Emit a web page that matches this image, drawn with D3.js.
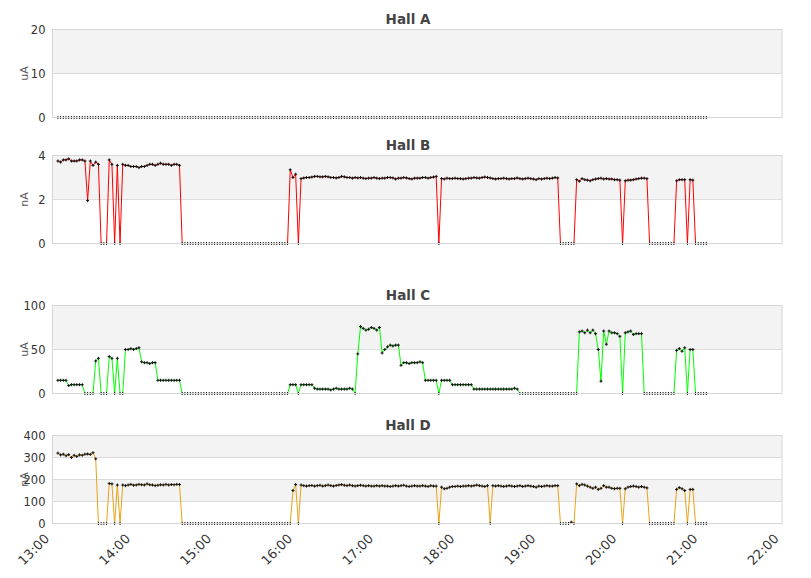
<!DOCTYPE html>
<html>
<head>
<meta charset="utf-8">
<script src="https://cdn.jsdelivr.net/npm/d3@7/dist/d3.min.js"></script>
<style>
  html, body { margin: 0; padding: 0; background: #fff; }
  svg { display: block; }
</style>
</head>
<body>
<svg id="chart" width="811" height="578"></svg>
<script>
// ---------- DATA ----------
const sampleStart = "13:04";   // first sample time
const sampleStepMinutes = 2;    // sampling interval
const xDomain = ["13:00", "22:00"];

const panelTitles = ["Hall A", "Hall B", "Hall C", "Hall D"];
const panelUnits = ["uA", "nA", "uA", "nA"];
const panelTicks = [[0, 10, 20], [0, 2, 4], [0, 50, 100], [0, 100, 200, 300, 400]];
const panelColors = ["#000000", "#ff0000", "#00ff00", "#e8a317"];

const hallA = [
  0,0,0,0,0,0,0,0,0,0, 0,0,0,0,0,0,0,0,0,0, 0,0,0,0,0,0,0,0,0,0,
  0,0,0,0,0,0,0,0,0,0, 0,0,0,0,0,0,0,0,0,0, 0,0,0,0,0,0,0,0,0,0,
  0,0,0,0,0,0,0,0,0,0, 0,0,0,0,0,0,0,0,0,0, 0,0,0,0,0,0,0,0,0,0,
  0,0,0,0,0,0,0,0,0,0, 0,0,0,0,0,0,0,0,0,0, 0,0,0,0,0,0,0,0,0,0,
  0,0,0,0,0,0,0,0,0,0, 0,0,0,0,0,0,0,0,0,0, 0,0,0,0,0,0,0,0,0,0,
  0,0,0,0,0,0,0,0,0,0, 0,0,0,0,0,0,0,0,0,0, 0,0,0,0,0,0,0,0,0,0,
  0,0,0,0,0,0,0,0,0,0, 0,0,0,0,0,0,0,0,0,0, 0,0,0,0,0,0,0,0,0,0,
  0,0,0,0,0,0,0,0,0,0, 0,0,0,0,0,0,0,0,0,0, 0,0,0,0,0,0,0,0,0,0,
  0
];

const hallB = [
  3.75,3.7,3.8,3.8,3.85,3.75,3.75,3.75,3.8,3.8,
  3.75,1.95,3.75,3.55,3.7,3.6,0,0,0,3.8,
  3.6,0,3.55,0,3.6,3.55,3.55,3.5,3.5,3.5,
  3.45,3.5,3.5,3.55,3.6,3.6,3.55,3.6,3.65,3.6,
  3.6,3.6,3.55,3.6,3.6,3.55,0,0,0,0,
  0,0,0,0,0,0,0,0,0,0,
  0,0,0,0,0,0,0,0,0,0,
  0,0,0,0,0,0,0,0,0,0,
  0,0,0,0,0,0,3.35,3.0,3.15,0,
  2.95,2.98,3.0,3.0,3.02,3.05,3.05,3.03,3.03,3.05,
  3.03,3.0,3.0,2.98,3.0,3.05,3.03,3.0,3.0,2.97,
  3.0,2.98,3.0,2.97,2.95,2.97,2.97,3.0,2.97,2.95,
  2.97,2.97,3.0,3.0,2.98,2.93,2.97,2.97,3.0,2.98,
  2.95,2.93,2.97,2.97,2.97,3.0,3.0,2.97,3.0,3.02,
  3.05,0,2.95,2.93,2.97,2.95,2.95,2.97,2.95,2.95,
  2.93,2.95,2.97,2.97,3.0,2.98,2.97,3.0,3.02,3.0,
  2.98,2.95,2.93,2.95,2.95,2.97,2.95,2.93,2.95,2.95,
  2.98,2.95,2.93,2.95,2.97,2.95,2.93,2.9,2.95,2.93,
  2.95,2.97,2.95,2.97,3.0,2.98,0,0,0,0,
  0,0,2.9,2.83,2.95,2.9,2.88,2.85,2.9,2.93,
  2.95,2.97,2.93,2.95,2.93,2.93,2.9,2.9,2.88,0,
  2.85,2.88,2.88,2.9,2.93,2.95,2.97,2.97,2.95,0,
  0,0,0,0,0,0,0,0,0,2.85,
  2.9,2.9,2.9,0,2.9,2.88,0,0,0,0,
  0
];

const hallC = [
  15,15,15,15,9,10,10,10,10,10,
  0,0,0,0,37,40,0,0,0,42,
  40,0,40,0,0,50,50,51,50,51,
  52,36,35,35,34,35,35,15,15,15,
  15,15,15,15,15,15,0,0,0,0,
  0,0,0,0,0,0,0,0,0,0,
  0,0,0,0,0,0,0,0,0,0,
  0,0,0,0,0,0,0,0,0,0,
  0,0,0,0,0,0,10,10,10,0,
  10,10,10,10,10,6,5,5,5,5,
  5,4,5,6,5,5,5,5,6,5,
  0,45,76,74,72,73,75,74,72,75,
  46,50,53,55,54,55,55,32,35,35,
  34,35,35,35,36,35,15,15,15,15,
  15,0,15,15,15,15,10,10,10,10,
  10,10,10,10,5,5,5,5,5,5,
  5,5,5,5,5,5,5,5,5,6,
  5,0,0,0,0,0,0,0,0,0,
  0,0,0,0,0,0,0,0,0,0,
  0,0,0,70,71,69,72,69,72,68,
  50,14,71,56,71,69,69,68,65,0,
  69,70,71,67,68,68,68,0,0,0,
  0,0,0,0,0,0,0,0,0,49,
  51,48,52,0,50,50,0,0,0,0,
  0
];

const hallD = [
  320,312,315,308,313,300,310,305,312,310,
  315,316,314,322,294,0,0,0,0,182,
  180,0,175,0,175,172,175,178,174,175,
  178,176,175,180,176,175,172,174,176,175,
  178,175,177,176,178,177,0,0,0,0,
  0,0,0,0,0,0,0,0,0,0,
  0,0,0,0,0,0,0,0,0,0,
  0,0,0,0,0,0,0,0,0,0,
  0,0,0,0,0,0,0,150,177,0,
  175,172,170,172,173,170,172,174,170,172,
  175,172,170,173,175,177,174,172,175,172,
  170,172,174,172,170,172,170,170,172,170,
  172,170,170,168,170,172,170,172,174,170,
  168,170,172,170,170,172,170,168,172,170,
  170,0,165,158,160,165,168,168,170,168,
  170,170,172,170,172,175,172,170,168,172,
  0,172,170,172,170,168,170,172,170,168,
  170,172,168,170,172,170,168,165,170,168,
  170,172,170,170,172,172,0,0,0,0,
  6,0,180,172,178,175,170,165,160,165,
  155,160,172,165,165,160,158,160,160,0,
  158,165,168,170,168,165,168,165,162,0,
  0,0,0,0,0,0,0,0,0,155,
  163,158,150,0,155,155,0,0,0,0,
  0
];

const series = [hallA, hallB, hallC, hallD];

// ---------- LAYOUT ----------
const W = 811, H = 578;
const plotLeft = 52.5, plotRight = 782;
const panelTops = [29.5, 155.5, 305.5, 435.5];
const panelHeight = 88;
const font = "'DejaVu Sans', Verdana, sans-serif";

const parseHM = d3.timeParse("%H:%M");
const t0 = parseHM(sampleStart);
const times = hallA.map((_, i) => d3.timeMinute.offset(t0, i * sampleStepMinutes));

const x = d3.scaleTime()
  .domain(xDomain.map(parseHM))
  .range([plotLeft, plotRight]);

const svg = d3.select("#chart");

panelTitles.forEach((title, p) => {
  const top = panelTops[p];
  const bottom = top + panelHeight;
  const ticks = panelTicks[p];
  const y = d3.scaleLinear()
    .domain([0, ticks[ticks.length - 1]])
    .range([bottom, top]);
  const g = svg.append("g");

  // alternating bands (top band grey)
  const nb = ticks.length - 1;
  for (let i = 0; i < nb; i++) {
    if ((nb - 1 - i) % 2 === 0) {
      g.append("rect")
        .attr("x", plotLeft).attr("width", plotRight - plotLeft)
        .attr("y", y(ticks[i + 1])).attr("height", y(ticks[i]) - y(ticks[i + 1]))
        .attr("fill", "#f3f3f3");
    }
  }

  // horizontal grid lines
  g.selectAll("line.grid").data(ticks).join("line")
    .attr("class", "grid")
    .attr("x1", plotLeft).attr("x2", plotRight)
    .attr("y1", d => y(d)).attr("y2", d => y(d))
    .attr("stroke", "#dcdcdc").attr("stroke-width", 1);

  // y axis via d3 axis (labels only)
  const yAxis = d3.axisLeft(y).tickValues(ticks).tickFormat(d3.format("d"))
    .tickSize(0).tickPadding(7);
  const ya = g.append("g").attr("transform", `translate(${plotLeft},0)`).call(yAxis);
  ya.select(".domain").remove();
  ya.selectAll("text")
    .attr("font-family", font).attr("font-size", 11.5).attr("fill", "#333");

  // unit label
  g.append("text")
    .attr("transform", `translate(27.5,${(top + bottom) / 2}) rotate(-90)`)
    .attr("text-anchor", "middle")
    .attr("font-family", font).attr("font-size", 11).attr("fill", "#555")
    .text(panelUnits[p]);

  // title
  g.append("text")
    .attr("x", 408).attr("y", top - 6)
    .attr("text-anchor", "middle")
    .attr("font-family", font).attr("font-weight", "bold")
    .attr("font-size", 13.5).attr("fill", "#444")
    .text(title);

  const data = series[p].map((v, i) => ({ t: times[i], v }));

  // line
  const line = d3.line().x(d => x(d.t)).y(d => y(d.v));
  g.append("path")
    .datum(data)
    .attr("d", line)
    .attr("fill", "none")
    .attr("stroke", panelColors[p])
    .attr("stroke-width", 1);

  // markers (+)
  g.selectAll("path.mk").data(data).join("path")
    .attr("class", "mk")
    .attr("transform", d => `translate(${x(d.t)},${y(d.v)})`)
    .attr("d", "M-1.5,0H1.5M0,-1.5V1.5")
    .attr("stroke", "#111")
    .attr("stroke-width", 1)
    .attr("fill", "none");

  // frame on top
  g.append("rect")
    .attr("x", plotLeft).attr("y", top)
    .attr("width", plotRight - plotLeft).attr("height", panelHeight)
    .attr("fill", "none").attr("stroke", "#d6d6d6").attr("stroke-width", 1);
});

// x axis labels (bottom panel)
const bottomY = panelTops[3] + panelHeight;
const xAxis = d3.axisBottom(x)
  .ticks(d3.timeHour.every(1))
  .tickFormat(d3.timeFormat("%H:%M"))
  .tickSize(0);
const xa = svg.append("g").attr("transform", `translate(0,${bottomY})`).call(xAxis);
xa.select(".domain").remove();
xa.selectAll("text")
  .attr("font-family", font).attr("font-size", 13).attr("fill", "#333")
  .attr("text-anchor", "end")
  .attr("dy", null).attr("y", null)
  .attr("transform", "translate(-3,16) rotate(-45)");
</script>
</body>
</html>
